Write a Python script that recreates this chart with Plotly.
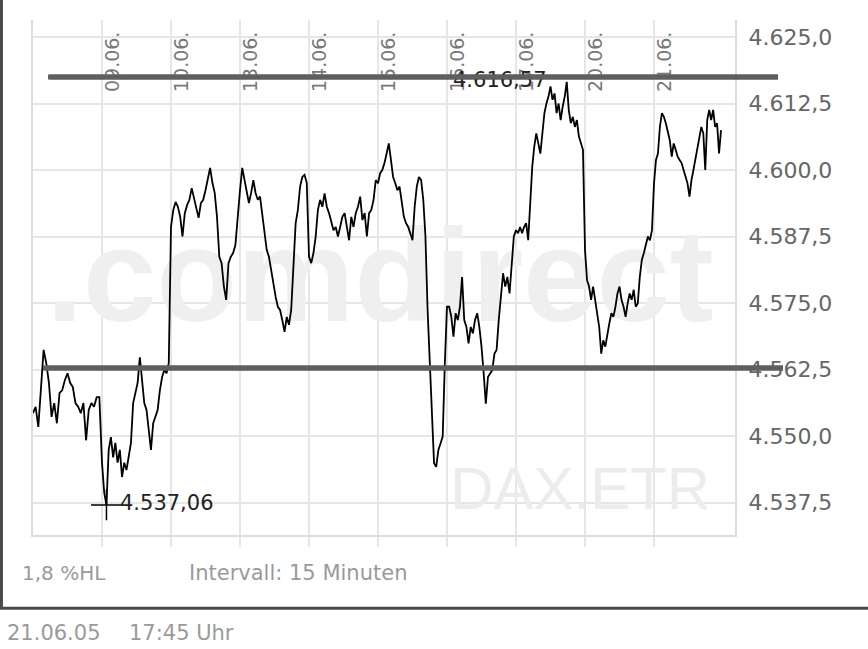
import plotly.graph_objects as go

# ---------------- data (15-minute closes, DAX Xetra) ----------------
day_labels = ["09.06.", "10.06.", "13.06.", "14.06.", "15.06.",
              "16.06.", "17.06.", "20.06.", "21.06."]

d_0806 = [4554.3, 4555.5, 4551.7, 4560.0, 4566.2, 4563.7, 4560.0, 4553.6, 4556.2,
          4552.4, 4558.1, 4558.6, 4560.5, 4561.8, 4560.0, 4559.2, 4556.2, 4555.5,
          4554.3, 4556.2, 4549.2, 4554.9, 4556.2, 4555.5, 4557.3, 4557.3]
d_0906 = [4545.0, 4539.3, 4537.06, 4547.4, 4549.8, 4546.0, 4548.7, 4545.0, 4547.4,
          4542.3, 4545.0, 4543.6, 4546.0, 4548.7, 4556.2, 4558.1, 4560.0, 4564.8,
          4560.0, 4556.2, 4554.9, 4551.1, 4547.4, 4552.4, 4553.6, 4554.9, 4558.6,
          4561.1, 4562.4, 4561.8, 4563.7]
d_1006 = [4589.3, 4592.5, 4594.0, 4593.1, 4591.2, 4587.5, 4591.9, 4593.4, 4594.4,
          4596.6, 4594.7, 4593.4, 4591.0, 4593.8, 4594.4, 4596.2, 4598.7, 4600.4,
          4597.6, 4595.7, 4591.2, 4583.7, 4582.5, 4578.1, 4575.6, 4582.5, 4583.7,
          4584.4, 4585.9, 4591.9]
d_1306 = [4596.2, 4600.4, 4598.1, 4596.2, 4593.8, 4595.7, 4598.1, 4595.7, 4594.4,
          4595.0, 4591.9, 4588.7, 4585.0, 4583.7, 4581.2, 4578.1, 4576.2, 4574.3,
          4573.7, 4571.8, 4569.6, 4572.4, 4570.9, 4573.7, 4581.2, 4590.0, 4592.5,
          4596.9, 4598.7, 4599.1, 4597.6]
d_1406 = [4583.7, 4582.5, 4584.4, 4587.5, 4592.5, 4594.4, 4593.1, 4595.6, 4593.1,
          4591.9, 4590.0, 4588.7, 4589.3, 4587.5, 4589.3, 4591.2, 4591.9, 4589.3,
          4586.8, 4591.2, 4589.3, 4591.9, 4593.1, 4595.0, 4590.6, 4591.9, 4587.5,
          4591.9, 4592.5, 4594.4, 4598.1]
d_1506 = [4597.5, 4599.4, 4600.0, 4601.3, 4603.1, 4605.0, 4601.9, 4598.7, 4597.5,
          4596.2, 4596.9, 4593.7, 4591.2, 4590.0, 4589.3, 4588.1, 4586.8, 4593.1,
          4596.9, 4598.7, 4598.1, 4594.4, 4587.5, 4573.7, 4563.7, 4553.0, 4544.9,
          4544.2, 4547.4, 4548.6, 4549.9, 4563.7]
d_1606 = [4574.3, 4574.3, 4572.4, 4568.7, 4573.1, 4571.8, 4574.3, 4579.9, 4571.8,
          4570.5, 4567.4, 4570.5, 4569.3, 4571.8, 4573.1, 4570.5, 4566.8, 4561.8,
          4556.1, 4561.1, 4561.8, 4562.4, 4565.5, 4566.2, 4571.8, 4576.8, 4580.6,
          4578.1, 4579.9, 4576.8, 4581.8, 4587.5]
d_1706 = [4588.7, 4588.1, 4589.3, 4588.1, 4589.3, 4590.0, 4586.8, 4594.4, 4600.6,
          4604.4, 4606.9, 4605.0, 4603.1, 4606.9, 4610.7, 4612.5, 4613.8, 4615.7,
          4613.2, 4614.4, 4610.7, 4612.5, 4609.4, 4611.9, 4613.8, 4616.57, 4611.3,
          4608.8, 4610.0, 4608.1, 4609.4, 4606.3, 4605.0, 4603.8]
d_2006 = [4585.0, 4579.3, 4578.1, 4575.6, 4578.1, 4575.6, 4573.1, 4570.5, 4565.5,
          4568.0, 4566.8, 4569.3, 4571.2, 4573.1, 4572.4, 4574.3, 4576.8, 4578.1,
          4575.6, 4574.3, 4572.4, 4574.9, 4576.8, 4575.6, 4577.5, 4574.3, 4574.9,
          4579.9, 4583.1, 4584.4, 4586.2, 4587.5, 4586.8, 4588.7]
d_2106 = [4597.5, 4601.9, 4603.1, 4608.1, 4610.7, 4610.0, 4608.8, 4606.9, 4605.6,
          4602.5, 4605.0, 4603.8, 4602.5, 4601.9, 4601.3, 4600.0, 4598.7, 4597.5,
          4595.0, 4598.1, 4600.0, 4601.9, 4604.4, 4605.6, 4608.1, 4606.9, 4600.0,
          4609.4, 4611.3, 4609.4, 4611.3, 4608.1, 4608.8, 4603.1, 4607.5]

y_tick_vals = [4537.5, 4550.0, 4562.5, 4575.0, 4587.5, 4600.0, 4612.5, 4625.0]
y_tick_text = ["4.537,5", "4.550,0", "4.562,5", "4.575,0", "4.587,5",
               "4.600,0", "4.612,5", "4.625,0"]

resistance_level = 4617.5
support_level = 4562.8
min_label = "4.537,06"
max_label = "4.616,57"

# ---------------- build series ----------------
days = [d_0806, d_0906, d_1006, d_1306, d_1406, d_1506, d_1606, d_1706, d_2006, d_2106]
xs, ys = [], []
for d, vals in enumerate(days):
    n = len(vals)
    for i, v in enumerate(vals):
        xs.append(d + i / n)
        ys.append(v)

i_min = ys.index(min(ys))
i_max = ys.index(max(ys))

FONT = "DejaVu Sans"
LINE_GREY = "#5f5f5f"
fig = go.Figure()

# watermarks (drawn first, under the line)
fig.add_trace(go.Scatter(x=[5.03], y=[4577.8], mode="text", text=[".comdirect"],
                         textfont=dict(family="Liberation Sans", size=132, color="#efefef",
                                       weight="bold"),
                         textposition="middle center", hoverinfo="skip", showlegend=False))
fig.add_trace(go.Scatter(x=[7.93], y=[4539.1], mode="text", text=["DAX.ETR"],
                         textfont=dict(family="Liberation Sans", size=60, color="#ececec"),
                         textposition="middle center", hoverinfo="skip", showlegend=False))

fig.add_trace(go.Scatter(x=xs, y=ys, mode="lines",
                         line=dict(color="#000000", width=1.8),
                         hoverinfo="skip", showlegend=False))

# min marker
fig.add_trace(go.Scatter(x=[xs[i_min]], y=[ys[i_min]], mode="markers",
                         marker=dict(symbol="cross-thin-open", size=22, color="#000000",
                                     line=dict(color="#000000", width=1.5)),
                         hoverinfo="skip", showlegend=False))

annotations = []
for k, lab in enumerate(day_labels, start=1):
    annotations.append(dict(x=k + 0.145, y=0.9184, xref="x", yref="paper",
                            text=lab, textangle=-90, showarrow=False,
                            font=dict(family=FONT, size=19, color="#777777"),
                            xanchor="center", yanchor="middle"))
annotations.append(dict(x=xs[i_min], y=ys[i_min], xref="x", yref="y", text=min_label,
                        showarrow=False, xanchor="left", yanchor="middle",
                        xshift=12, yshift=2,
                        font=dict(family=FONT, size=21, color="#222222")))
annotations.append(dict(x=xs[i_max], y=ys[i_max], xref="x", yref="y", text=max_label,
                        showarrow=False, xanchor="right", yanchor="middle",
                        xshift=-18, yshift=2,
                        font=dict(family=FONT, size=21, color="#222222")))
# horizontal support / resistance lines drawn on top of labels (as arrow-less annotations)
for level, x0p, x1p in [(resistance_level, 0.0214, 1.0613), (support_level, 0.0142, 1.0684)]:
    annotations.append(dict(x=x1p, y=level, xref="paper", yref="y",
                            ax=-(x1p - x0p) * 702, ay=0, axref="pixel", ayref="pixel",
                            text="", showarrow=True, arrowhead=0, arrowwidth=5,
                            arrowcolor=LINE_GREY, standoff=0, startstandoff=0))
annotations.append(dict(x=-0.0185, y=-0.0738, xref="paper", yref="paper",
                        text="1,8 %HL", showarrow=False, xanchor="left", yanchor="middle",
                        font=dict(family=FONT, size=20, color="#9a9a9a")))
annotations.append(dict(x=0.2194, y=-0.0738, xref="paper", yref="paper",
                        text="Intervall: 15 Minuten", showarrow=False, xanchor="left",
                        yanchor="middle", font=dict(family=FONT, size=21, color="#9a9a9a")))
annotations.append(dict(x=-0.0399, y=-0.1903, xref="paper", yref="paper",
                        text="21.06.05", showarrow=False, xanchor="left", yanchor="middle",
                        font=dict(family=FONT, size=21, color="#9a9a9a")))
annotations.append(dict(x=0.1339, y=-0.1903, xref="paper", yref="paper",
                        text="17:45 Uhr", showarrow=False, xanchor="left", yanchor="middle",
                        font=dict(family=FONT, size=21, color="#9a9a9a")))

shapes = [
    dict(type="line", xref="paper", yref="y", x0=0.0214, x1=1.0613,
         y0=resistance_level, y1=resistance_level,
         line=dict(color=LINE_GREY, width=5), layer="above"),
    dict(type="line", xref="paper", yref="y", x0=0.0142, x1=1.0684,
         y0=support_level, y1=support_level,
         line=dict(color=LINE_GREY, width=5), layer="above"),
    # outer frame
    dict(type="line", xref="paper", yref="paper", x0=-0.0449, x1=-0.0449,
         y0=1.05, y1=-0.1423, line=dict(color="#4a4a4a", width=3)),
    dict(type="line", xref="paper", yref="paper", x0=-0.05, x1=1.2,
         y0=-0.1423, y1=-0.1423, line=dict(color="#4a4a4a", width=3)),
]

fig.update_layout(
    width=868, height=649,
    margin=dict(l=33, r=133, t=20, b=114),
    paper_bgcolor="white", plot_bgcolor="white",
    showlegend=False,
    annotations=annotations,
    shapes=shapes,
    xaxis=dict(range=[0, 702 / 69], tickvals=list(range(1, 10)), showticklabels=False,
               showgrid=True, gridcolor="#e6e6e6", gridwidth=2,
               ticks="outside", ticklen=10, tickwidth=2, tickcolor="#e6e6e6",
               showline=True, linecolor="#dddddd", linewidth=2, mirror=False,
               zeroline=False, fixedrange=True),
    yaxis=dict(range=[4531.4, 4628.2], side="right", tickvals=y_tick_vals,
               ticktext=y_tick_text, showgrid=True, gridcolor="#e6e6e6", gridwidth=2,
               ticks="", ticklabelstandoff=7,
               tickfont=dict(family=FONT, size=22, color="#666666"),
               showline=True, linecolor="#dddddd", linewidth=2, mirror=True,
               zeroline=False, fixedrange=True),
)

fig.write_html("out.html", config={"displayModeBar": False},
               post_script="document.body.style.margin='0';document.body.style.overflow='hidden';")
